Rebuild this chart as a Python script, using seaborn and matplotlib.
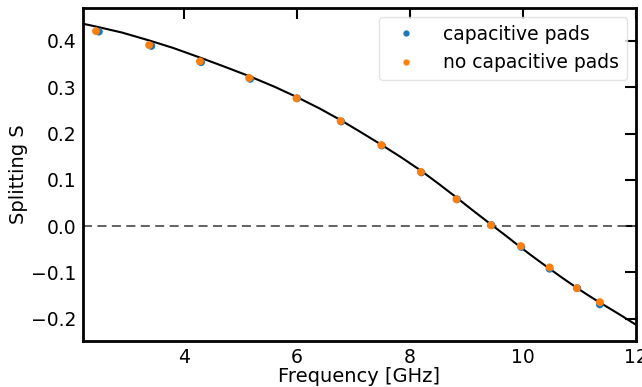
import numpy as np
import pandas as pd
import seaborn as sns
import matplotlib
matplotlib.use('Agg')
import matplotlib.pyplot as plt

freq_pads = [2.49, 3.42, 4.30, 5.17, 6.00, 6.78, 7.50, 8.20, 8.83, 9.44, 9.97, 10.47, 10.96, 11.36]
s_pads = [0.420, 0.389, 0.354, 0.318, 0.276, 0.226, 0.174, 0.116, 0.058, 0.002, -0.045, -0.092, -0.134, -0.169]
freq_nopads = [2.44, 3.38, 4.28, 5.15, 5.99, 6.77, 7.49, 8.19, 8.82, 9.43, 9.96, 10.47, 10.95, 11.36]
s_nopads = [0.421, 0.391, 0.356, 0.320, 0.276, 0.227, 0.175, 0.117, 0.058, 0.002, -0.043, -0.089, -0.134, -0.164]

# model curve
freq_fit = [2.21, 2.44, 2.9, 3.38, 3.8, 4.28, 4.7, 5.15, 5.6, 5.99, 6.4, 6.77, 7.1, 7.49, 7.85, 8.19,
            8.5, 8.82, 9.1, 9.43, 9.7, 9.96, 10.2, 10.47, 10.7, 10.95, 11.15, 11.36, 11.7, 12.0]
s_fit = [0.437, 0.431, 0.418, 0.401, 0.385, 0.364, 0.345, 0.324, 0.301, 0.279, 0.254, 0.229, 0.205,
         0.176, 0.148, 0.120, 0.092, 0.062, 0.035, 0.004, -0.021, -0.046, -0.068, -0.092, -0.112,
         -0.133, -0.149, -0.165, -0.190, -0.213]

df = pd.DataFrame({
    'Frequency': freq_pads + freq_nopads,
    'S': s_pads + s_nopads,
    'kind': ['capacitive pads'] * len(freq_pads) + ['no capacitive pads'] * len(freq_nopads),
})
fit = pd.DataFrame({'Frequency': freq_fit, 'S': s_fit})

sns.set_style('white', rc={'text.color': 'black', 'axes.labelcolor': 'black',
                           'xtick.color': 'black', 'ytick.color': 'black'})
plt.rcParams['font.family'] = ['DejaVu Sans']
plt.rcParams['font.size'] = 14

fig = plt.figure(figsize=(6.42, 3.87), dpi=100)
ax = fig.add_axes([83 / 642, 1 - 341 / 387, (636 - 83) / 642, (341 - 8) / 387])

ax.axhline(0, color='#555555', ls=(0, (5, 3)), lw=1.3, zorder=1)
sns.lineplot(data=fit, x='Frequency', y='S', color='black', lw=1.5, ax=ax, zorder=2, sort=False)
sns.scatterplot(data=df, x='Frequency', y='S', hue='kind',
                palette=['#1f77b4', '#ff7f0e'], s=32, edgecolor='none', ax=ax, zorder=3)

ax.set_xlim(2.21, 12)
ax.set_ylim(-0.248, 0.471)
ax.set_xticks([4, 6, 8, 10, 12])
ax.set_yticks([-0.2, -0.1, 0.0, 0.1, 0.2, 0.3, 0.4])
ax.set_xlabel('Frequency [GHz]', fontsize=14, labelpad=0)
ax.set_ylabel('Splitting S', fontsize=14, labelpad=2)
ax.tick_params(direction='in', length=8, width=1.5, top=True, right=True, labelsize=13.5, pad=5,
               colors='black')
for sp in ax.spines.values():
    sp.set_linewidth(2)
    sp.set_color('black')

leg = ax.legend(loc='upper right', fontsize=13.5, markerscale=0.8, borderaxespad=0.5,
                handletextpad=1.0, borderpad=0.4)
leg.get_frame().set_edgecolor('#dddddd')

fig.savefig('out.png', dpi=100)
